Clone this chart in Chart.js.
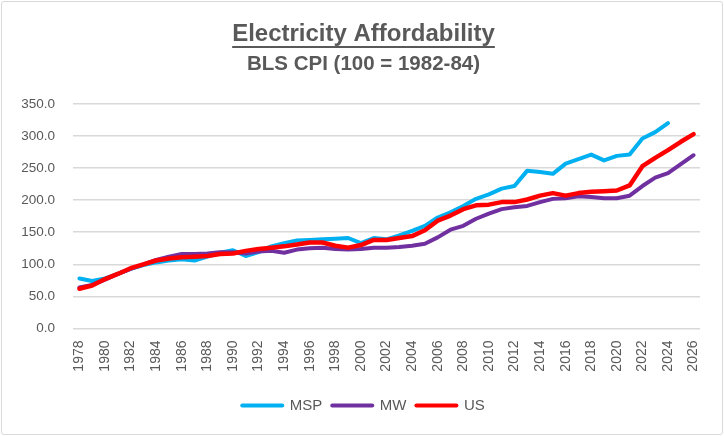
<!DOCTYPE html>
<html>
<head>
<meta charset="utf-8">
<script src="https://cdn.jsdelivr.net/npm/chart.js@4"></script>
<style>
  html, body { margin: 0; padding: 0; background: #fff; }
  #wrap { position: relative; width: 724px; height: 436px; }
  #frame { position: absolute; left: 1px; top: 1px; width: 720px; height: 432px; border: 1px solid #d9d9d9; border-radius: 3px; pointer-events: none; }
  canvas { position: absolute; left: 0; top: 0; }
</style>
</head>
<body>
<div id="wrap">
  <canvas id="c" width="724" height="436"></canvas>
  <div id="frame"></div>
</div>
<script>
const years = [];
for (let y = 1978; y <= 2026; y++) years.push(String(y));

const yTicks = [0, 50, 100, 150, 200, 250, 300, 350];

const mspValues = [78, 74, 78, 85, 93, 99, 103, 106, 108, 106, 112, 118, 122, 113, 119, 128, 133, 137, 138, 139, 140, 141, 133, 141, 139, 145, 152, 160, 173, 181, 191, 202, 209, 218, 222, 246, 244, 241, 257, 264, 271, 262, 269, 271, 296, 306, 320, null, null];

const mwValues = [64, 68, 76, 85, 93, 100, 107, 112, 116, 116, 117, 119, 119, 117, 120, 121, 118, 123, 125, 126, 124, 123, 124, 126, 126, 127, 129, 132, 142, 154, 160, 171, 179, 186, 189, 191, 197, 202, 203, 206, 205, 203, 203, 207, 222, 235, 242, 256, 270];

const usValues = [62, 67, 77, 85, 94, 100, 106, 109, 111, 112, 113, 116, 117, 121, 124, 126, 128, 131, 134, 134, 129, 126, 130, 138, 138, 141, 144, 153, 168, 176, 186, 192, 193, 197, 197, 201, 207, 211, 207, 211, 213, 214, 215, 223, 253, 266, 278, 291, 303];

const seriesNames = ['MSP', 'MW', 'US'];
const seriesColors = ['#00B0F0', '#7030A0', '#FF0000'];

const fontFamily = "'Liberation Sans', Arial, sans-serif";
const textColor = '#595959';

// shift title, subtitle and legend so they are centred on the whole frame
const centreShiftPlugin = {
  id: 'centreShift',
  afterLayout(chart) {
    chart.boxes.forEach(b => {
      if (!b.axis) { b.left += 4.5; b.right += 4.5; }
    });
  }
};

const underlinePlugin = {
  id: 'underlineTitle',
  afterDraw(chart) {
    const t = chart.titleBlock;
    if (!t) return;
    const ctx = chart.ctx;
    const opts = chart.options.plugins.title;
    ctx.save();
    ctx.font = `bold ${opts.font.size}px ${opts.font.family}`;
    const w = ctx.measureText(opts.text).width;
    const cx = (t.left + t.right) / 2;
    const y = t.top + opts.padding.top + opts.font.size * 1.12;
    ctx.strokeStyle = opts.color;
    ctx.lineWidth = 2;
    ctx.beginPath();
    ctx.moveTo(cx - w / 2, y);
    ctx.lineTo(cx + w / 2, y);
    ctx.stroke();
    ctx.restore();
  }
};

const datasets = [mspValues, mwValues, usValues].map((vals, i) => ({
  label: seriesNames[i],
  data: vals,
  borderColor: seriesColors[i],
  backgroundColor: seriesColors[i],
  borderWidth: i === 2 ? 4.5 : 4,
  borderCapStyle: 'round',
  borderJoinStyle: 'round',
  pointRadius: 0,
  pointHoverRadius: 0,
  tension: 0,
  fill: false,
  spanGaps: false,
  order: 3 - i
}));

new Chart(document.getElementById('c'), {
  type: 'line',
  data: { labels: years, datasets },
  options: {
    responsive: false,
    animation: false,
    devicePixelRatio: 1,
    layout: { padding: { left: 18, right: 24, top: 0, bottom: 13 } },
    plugins: {
      title: {
        display: true,
        text: 'Electricity Affordability',
        color: textColor,
        font: { family: fontFamily, size: 24, weight: 'bold', lineHeight: 1.2 },
        padding: { top: 20, bottom: 3 }
      },
      subtitle: {
        display: true,
        text: 'BLS CPI (100 = 1982-84)',
        color: textColor,
        font: { family: fontFamily, size: 20.5, weight: 'bold', lineHeight: 1.2 },
        padding: { top: 0, bottom: 27.5 }
      },
      legend: {
        position: 'bottom',
        labels: {
          usePointStyle: true,
          pointStyle: 'line',
          pointStyleWidth: 40,
          boxHeight: 14,
          color: textColor,
          padding: 10,
          font: { family: fontFamily, size: 15 },
          generateLabels(chart) {
            return chart.data.datasets.map((ds, i) => ({
              text: ds.label,
              fillStyle: ds.borderColor,
              strokeStyle: ds.borderColor,
              lineWidth: 4,
              lineCap: 'round',
              pointStyle: 'line',
              fontColor: textColor,
              datasetIndex: i,
              hidden: false
            }));
          }
        }
      },
      tooltip: { enabled: false }
    },
    scales: {
      x: {
        offset: true,
        grid: { display: false },
        border: { display: false },
        ticks: {
          autoSkip: false,
          maxRotation: 90,
          minRotation: 90,
          color: textColor,
          padding: 4,
          font: { family: fontFamily, size: 14 },
          callback(value, index) { return index % 2 === 0 ? this.getLabelForValue(value) : ''; }
        },
        afterFit(s) { s.height = 59.5; }
      },
      y: {
        min: yTicks[0],
        max: yTicks[yTicks.length - 1],
        afterBuildTicks(s) { s.ticks = yTicks.map(v => ({ value: v })); },
        grid: { color: '#d9d9d9', lineWidth: 1.5, drawTicks: false },
        border: { display: false },
        ticks: {
          color: textColor,
          padding: 18,
          font: { family: fontFamily, size: 13.5 },
          callback: v => Number(v).toFixed(1)
        },
        afterFit(s) { s.width = 55; }
      }
    }
  },
  plugins: [centreShiftPlugin, underlinePlugin]
});
</script>
</body>
</html>
